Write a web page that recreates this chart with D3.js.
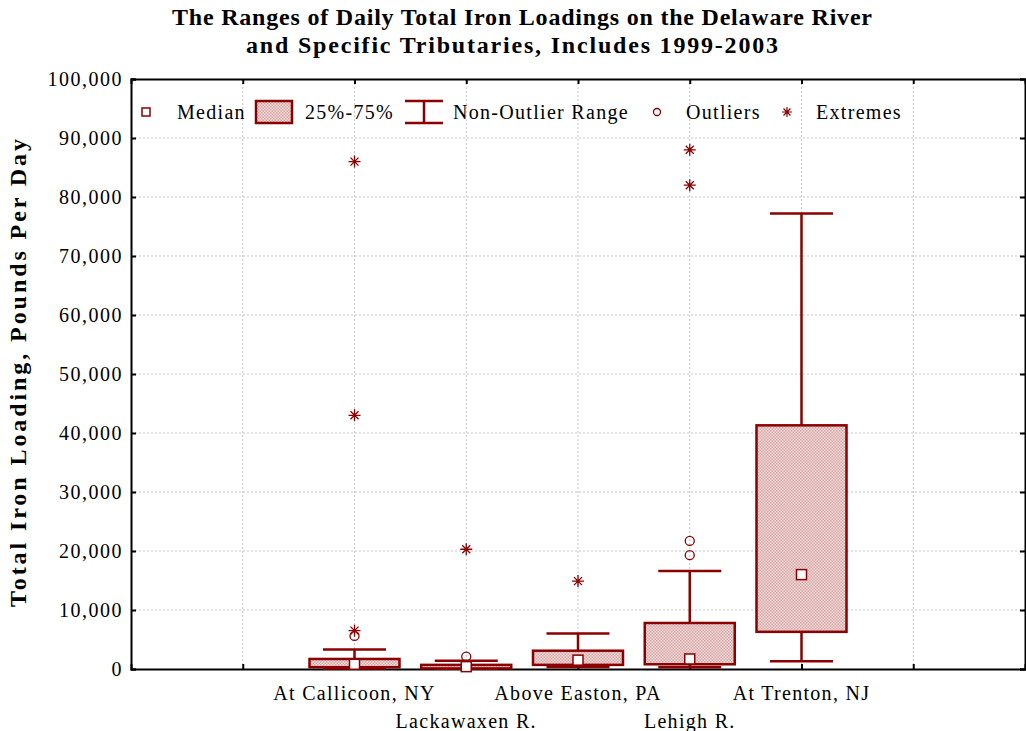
<!DOCTYPE html>
<html>
<head>
<meta charset="utf-8">
<script src="https://cdn.jsdelivr.net/npm/d3@7/dist/d3.min.js"></script>
<style>
  body { margin: 0; background: #fff; }
  svg text { font-family: "Liberation Serif", "Times New Roman", serif; }
</style>
</head>
<body>
<div id="wrapper"></div>
<script>
const categories = ['At Callicoon, NY', 'Lackawaxen R.', 'Above Easton, PA', 'Lehigh R.', 'At Trenton, NJ']
const medians = [800, 400, 1500, 1700, 16000]
const q1 = [300, 100, 700, 800, 6300]
const q3 = [1700, 700, 3100, 7800, 41300]
const whiskerLow = [100, 50, 350, 300, 1300]
const whiskerHigh = [3300, 1400, 6000, 16600, 77200]
const outliers = [[5600], [2100], [], [19300, 21700], []]
const extremes = [[6500, 43000, 86000], [20300], [14900], [82000, 88000], []]
const yTicks = d3.range(0, 100001, 10000)
const xGrid = d3.range(1, 8)

const red = '#8b0000'
const spacing = '1.3px'

const dimensions = {
    width: 1026,
    height: 731,
    margin: { top: 79, right: 1, bottom: 62, left: 131 }
}
dimensions.boundedWidth = dimensions.width - dimensions.margin.left - dimensions.margin.right
dimensions.boundedHeight = dimensions.height - dimensions.margin.top - dimensions.margin.bottom

const svg = d3.select('#wrapper').append('svg')
    .attr('width', dimensions.width)
    .attr('height', dimensions.height)

// checkered fill used by the boxes
const pat = svg.append('defs').append('pattern')
    .attr('id', 'check')
    .attr('width', 3).attr('height', 3)
    .attr('patternUnits', 'userSpaceOnUse')
pat.append('rect').attr('width', 3).attr('height', 3).attr('fill', '#f0d8d8')
pat.append('rect').attr('width', 1.5).attr('height', 1.5).attr('fill', '#d9a9a9')
pat.append('rect').attr('x', 1.5).attr('y', 1.5).attr('width', 1.5).attr('height', 1.5).attr('fill', '#d9a9a9')

const bounds = svg.append('g')
    .attr('transform', `translate(${dimensions.margin.left},${dimensions.margin.top})`)

const xScale = d3.scaleLinear()
    .domain([0, 8])
    .range([0, dimensions.boundedWidth])
const yScale = d3.scaleLinear()
    .domain([0, 100000])
    .range([dimensions.boundedHeight, 0])
const xPos = (i) => xScale(i + 2)

// grid
bounds.append('g').selectAll('line.h')
    .data(yTicks.slice(1, -1))
    .join('line')
    .attr('x1', 0).attr('x2', dimensions.boundedWidth)
    .attr('y1', d => yScale(d)).attr('y2', d => yScale(d))
    .attr('stroke', '#c4c4c4').attr('stroke-dasharray', '2,2')
bounds.append('g').selectAll('line.v')
    .data(xGrid)
    .join('line')
    .attr('x1', d => xScale(d)).attr('x2', d => xScale(d))
    .attr('y1', 0).attr('y2', dimensions.boundedHeight)
    .attr('stroke', '#c4c4c4').attr('stroke-dasharray', '2,2')

// axes (ticks pointing inward, mirrored on all sides)
const yAxis = bounds.append('g')
    .call(d3.axisLeft(yScale).tickValues(yTicks).tickSize(-5).tickPadding(8)
        .tickFormat(d3.format(',')))
yAxis.selectAll('text').attr('font-size', 20).attr('fill', '#000')
    .style('font-family', '"Liberation Serif", serif')
    .style('letter-spacing', '1.5px')
bounds.append('g')
    .attr('transform', `translate(${dimensions.boundedWidth},0)`)
    .call(d3.axisRight(yScale).tickValues(yTicks).tickSize(-5).tickFormat(''))
bounds.append('g')
    .attr('transform', `translate(0,${dimensions.boundedHeight})`)
    .call(d3.axisBottom(xScale).tickValues(xGrid).tickSize(-5).tickFormat(''))
bounds.append('g')
    .call(d3.axisTop(xScale).tickValues(xGrid).tickSize(-5).tickFormat(''))
bounds.selectAll('.domain').attr('stroke', '#000').attr('stroke-width', 2)
bounds.selectAll('.tick line').attr('stroke', '#000').attr('stroke-width', 2)

// category labels on two staggered rows
bounds.append('g').selectAll('text')
    .data(categories)
    .join('text')
    .attr('x', (d, i) => xPos(i))
    .attr('y', (d, i) => dimensions.boundedHeight + (i % 2 === 0 ? 31 : 59))
    .attr('text-anchor', 'middle')
    .attr('font-size', 20)
    .style('letter-spacing', spacing)
    .text(d => d)

// boxes
const boxW = 90
const capW = 63
const boxes = bounds.append('g').selectAll('g')
    .data(categories)
    .join('g')

boxes.append('line')
    .attr('x1', (d, i) => xPos(i)).attr('x2', (d, i) => xPos(i))
    .attr('y1', (d, i) => yScale(whiskerLow[i])).attr('y2', (d, i) => yScale(whiskerHigh[i]))
    .attr('stroke', red).attr('stroke-width', 2.5)
boxes.append('line')
    .attr('x1', (d, i) => xPos(i) - capW / 2).attr('x2', (d, i) => xPos(i) + capW / 2)
    .attr('y1', (d, i) => yScale(whiskerHigh[i])).attr('y2', (d, i) => yScale(whiskerHigh[i]))
    .attr('stroke', red).attr('stroke-width', 2.5)
boxes.append('line')
    .attr('x1', (d, i) => xPos(i) - capW / 2).attr('x2', (d, i) => xPos(i) + capW / 2)
    .attr('y1', (d, i) => yScale(whiskerLow[i])).attr('y2', (d, i) => yScale(whiskerLow[i]))
    .attr('stroke', red).attr('stroke-width', 2.5)
boxes.append('rect')
    .attr('x', (d, i) => xPos(i) - boxW / 2)
    .attr('width', boxW)
    .attr('y', (d, i) => yScale(q3[i]))
    .attr('height', (d, i) => yScale(q1[i]) - yScale(q3[i]))
    .attr('fill', 'url(#check)')
    .attr('stroke', red).attr('stroke-width', 2.5)
boxes.append('rect')
    .attr('x', (d, i) => xPos(i) - 5)
    .attr('y', (d, i) => yScale(medians[i]) - 5)
    .attr('width', 10).attr('height', 10)
    .attr('fill', '#fff')
    .attr('stroke', red).attr('stroke-width', 1.5)

// outliers
const outPts = outliers.flatMap((arr, i) => arr.map(v => ({ i, v })))
bounds.append('g').selectAll('circle')
    .data(outPts)
    .join('circle')
    .attr('cx', d => xPos(d.i))
    .attr('cy', d => yScale(d.v))
    .attr('r', 4.5)
    .attr('fill', 'none')
    .attr('stroke', red).attr('stroke-width', 1.3)

// extremes drawn as asterisks
const asterisk = 'M-6,0H6M0,-6V6M-4,-4L4,4M-4,4L4,-4'
const extPts = extremes.flatMap((arr, i) => arr.map(v => ({ i, v })))
bounds.append('g').selectAll('path')
    .data(extPts)
    .join('path')
    .attr('transform', d => `translate(${xPos(d.i)},${yScale(d.v)})`)
    .attr('d', asterisk)
    .attr('stroke', red).attr('stroke-width', 1.3)

// legend
const legend = svg.append('g').attr('transform', 'translate(0,112)')
const legendText = (x, t) => legend.append('text').attr('x', x).attr('y', 7)
    .attr('font-size', 20).style('letter-spacing', spacing).text(t)
legend.append('rect').attr('x', 142).attr('y', -4).attr('width', 8).attr('height', 8)
    .attr('fill', '#fff').attr('stroke', red).attr('stroke-width', 1.5)
legendText(177, 'Median')
legend.append('rect').attr('x', 256).attr('y', -11).attr('width', 36).attr('height', 22)
    .attr('fill', 'url(#check)').attr('stroke', red).attr('stroke-width', 2.5)
legendText(305, '25%-75%')
legend.append('path').attr('d', 'M405,-11H443M424,-11V11M405,11H443')
    .attr('fill', 'none').attr('stroke', red).attr('stroke-width', 2.5)
legendText(453, 'Non-Outlier Range')
legend.append('circle').attr('cx', 657).attr('cy', 0).attr('r', 3.5)
    .attr('fill', 'none').attr('stroke', red).attr('stroke-width', 1.3)
legendText(686, 'Outliers')
legend.append('path').attr('transform', 'translate(787,0)')
    .attr('d', 'M-5,0H5M0,-5V5M-3.5,-3.5L3.5,3.5M-3.5,3.5L3.5,-3.5')
    .attr('stroke', red).attr('stroke-width', 1.2)
legendText(816, 'Extremes')

// title
const title = svg.append('text')
    .attr('text-anchor', 'middle')
    .attr('font-size', 24)
    .attr('font-weight', 'bold')
title.append('tspan').attr('x', 522).attr('y', 25)
    .attr('textLength', 700).attr('lengthAdjust', 'spacing')
    .text('The Ranges of Daily Total Iron Loadings on the Delaware River')
title.append('tspan').attr('x', 512).attr('y', 53)
    .attr('textLength', 532).attr('lengthAdjust', 'spacing')
    .text('and Specific Tributaries, Includes 1999-2003')

// y label
svg.append('text')
    .attr('transform', `translate(26,${dimensions.margin.top + dimensions.boundedHeight / 2 - 1}) rotate(-90)`)
    .attr('text-anchor', 'middle')
    .attr('font-size', 24)
    .attr('font-weight', 'bold')
    .attr('textLength', 468).attr('lengthAdjust', 'spacing')
    .text('Total Iron Loading, Pounds Per Day')
</script>
</body>
</html>
